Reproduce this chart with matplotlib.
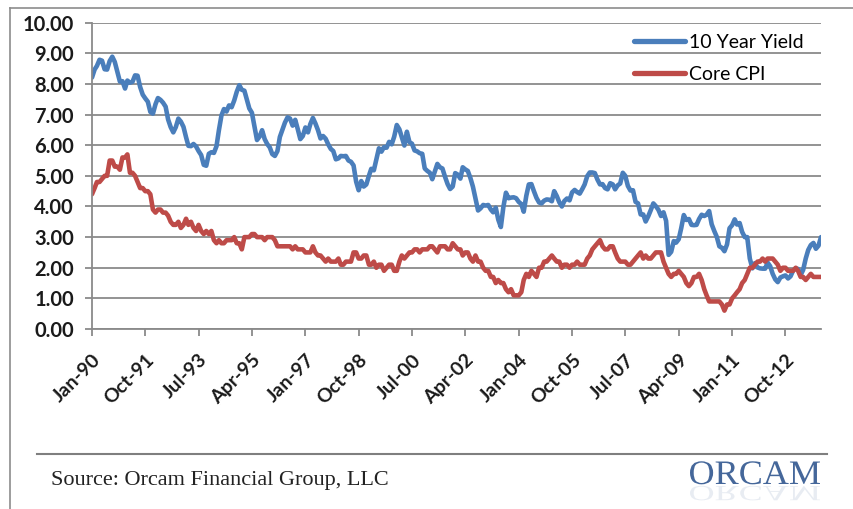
import numpy as np
import pandas as pd
import matplotlib
matplotlib.use("Agg")
import matplotlib.pyplot as plt
import matplotlib.dates as mdates
from matplotlib.textpath import TextPath
from matplotlib.patches import PathPatch
from matplotlib.font_manager import FontProperties
from matplotlib.transforms import Affine2D

# monthly data, Jan-1990 .. Dec-2013
yield_10y = [
    8.21, 8.47, 8.59, 8.79, 8.76, 8.48, 8.47, 8.75, 8.89, 8.72, 8.39, 8.08,  # 1990
    8.09, 7.85, 8.11, 8.04, 8.07, 8.28, 8.27, 7.90, 7.65, 7.53, 7.42, 7.09,  # 1991
    7.03, 7.34, 7.54, 7.48, 7.39, 7.26, 6.84, 6.59, 6.42, 6.59, 6.87, 6.77,  # 1992
    6.60, 6.26, 5.98, 5.97, 6.04, 5.96, 5.81, 5.68, 5.36, 5.33, 5.72, 5.77,  # 1993
    5.75, 5.97, 6.48, 6.97, 7.18, 7.10, 7.30, 7.24, 7.46, 7.74, 7.96, 7.81,  # 1994
    7.78, 7.47, 7.20, 7.06, 6.63, 6.17, 6.28, 6.49, 6.20, 6.04, 5.93, 5.71,  # 1995
    5.65, 5.81, 6.27, 6.51, 6.74, 6.91, 6.87, 6.64, 6.83, 6.53, 6.20, 6.30,  # 1996
    6.58, 6.42, 6.69, 6.89, 6.71, 6.49, 6.22, 6.30, 6.21, 6.03, 5.88, 5.81,  # 1997
    5.54, 5.57, 5.65, 5.64, 5.65, 5.50, 5.46, 5.34, 4.81, 4.53, 4.83, 4.65,  # 1998
    4.72, 5.00, 5.23, 5.18, 5.54, 5.90, 5.79, 5.94, 5.92, 6.11, 6.03, 6.28,  # 1999
    6.66, 6.52, 6.26, 5.99, 6.44, 6.10, 6.05, 5.83, 5.80, 5.74, 5.72, 5.24,  # 2000
    5.16, 5.10, 4.89, 5.14, 5.39, 5.28, 5.24, 4.97, 4.73, 4.57, 4.65, 5.09,  # 2001
    5.04, 4.91, 5.28, 5.21, 5.16, 4.93, 4.65, 4.26, 3.87, 3.94, 4.05, 4.03,  # 2002
    4.05, 3.90, 3.81, 3.96, 3.57, 3.33, 3.98, 4.45, 4.27, 4.29, 4.30, 4.27,  # 2003
    4.15, 4.08, 3.83, 4.35, 4.72, 4.73, 4.50, 4.28, 4.13, 4.10, 4.19, 4.23,  # 2004
    4.22, 4.17, 4.50, 4.34, 4.14, 4.00, 4.18, 4.26, 4.20, 4.46, 4.54, 4.47,  # 2005
    4.42, 4.57, 4.72, 4.99, 5.11, 5.11, 5.09, 4.88, 4.72, 4.73, 4.60, 4.56,  # 2006
    4.76, 4.72, 4.56, 4.69, 4.75, 5.10, 5.00, 4.67, 4.52, 4.53, 4.15, 4.10,  # 2007
    3.74, 3.74, 3.51, 3.68, 3.88, 4.10, 4.01, 3.89, 3.69, 3.81, 3.53, 2.42,  # 2008
    2.52, 2.87, 2.82, 2.93, 3.29, 3.72, 3.56, 3.59, 3.40, 3.39, 3.40, 3.59,  # 2009
    3.73, 3.69, 3.73, 3.85, 3.42, 3.20, 3.01, 2.70, 2.65, 2.54, 2.76, 3.29,  # 2010
    3.39, 3.58, 3.41, 3.46, 3.17, 3.00, 3.00, 2.30, 1.98, 2.15, 2.01, 1.98,  # 2011
    1.97, 1.97, 2.17, 2.05, 1.80, 1.62, 1.53, 1.68, 1.72, 1.75, 1.65, 1.72,  # 2012
    1.91, 1.98, 1.96, 1.76, 1.93, 2.30, 2.58, 2.74, 2.81, 2.62, 2.72, 3.00,  # 2013
]

core_cpi = [
    4.4, 4.6, 4.8, 4.8, 4.9, 5.0, 5.0, 5.5, 5.5, 5.3, 5.3, 5.2,  # 1990
    5.6, 5.6, 5.7, 5.1, 5.1, 5.0, 4.8, 4.6, 4.6, 4.5, 4.5, 4.4,  # 1991
    3.9, 3.8, 3.9, 3.9, 3.8, 3.8, 3.7, 3.5, 3.4, 3.4, 3.5, 3.3,  # 1992
    3.4, 3.6, 3.4, 3.5, 3.3, 3.2, 3.4, 3.2, 3.1, 3.2, 3.1, 3.2,  # 1993
    2.9, 2.8, 2.9, 2.8, 2.8, 2.9, 2.9, 2.9, 3.0, 2.8, 2.8, 2.6,  # 1994
    3.0, 3.0, 3.0, 3.1, 3.1, 3.0, 3.0, 3.0, 2.9, 3.0, 3.0, 3.0,  # 1995
    2.9, 2.7, 2.7, 2.7, 2.7, 2.7, 2.7, 2.6, 2.7, 2.6, 2.6, 2.6,  # 1996
    2.5, 2.5, 2.5, 2.7, 2.5, 2.4, 2.4, 2.3, 2.2, 2.3, 2.2, 2.2,  # 1997
    2.2, 2.3, 2.1, 2.1, 2.2, 2.2, 2.2, 2.5, 2.5, 2.3, 2.3, 2.4,  # 1998
    2.4, 2.1, 2.1, 2.2, 2.0, 2.1, 2.1, 1.9, 2.0, 2.1, 2.1, 1.9,  # 1999
    1.9, 2.2, 2.4, 2.3, 2.4, 2.5, 2.5, 2.6, 2.6, 2.5, 2.6, 2.6,  # 2000
    2.6, 2.7, 2.7, 2.6, 2.5, 2.7, 2.7, 2.7, 2.6, 2.6, 2.8, 2.7,  # 2001
    2.6, 2.6, 2.4, 2.5, 2.5, 2.3, 2.2, 2.4, 2.2, 2.2, 2.0, 1.9,  # 2002
    1.9, 1.7, 1.7, 1.5, 1.6, 1.5, 1.5, 1.3, 1.2, 1.3, 1.1, 1.1,  # 2003
    1.1, 1.2, 1.6, 1.8, 1.7, 1.9, 1.8, 1.7, 2.0, 2.0, 2.2, 2.2,  # 2004
    2.3, 2.4, 2.3, 2.2, 2.2, 2.0, 2.1, 2.1, 2.0, 2.1, 2.1, 2.2,  # 2005
    2.1, 2.1, 2.1, 2.3, 2.4, 2.6, 2.7, 2.8, 2.9, 2.7, 2.6, 2.6,  # 2006
    2.7, 2.7, 2.5, 2.3, 2.2, 2.2, 2.2, 2.1, 2.1, 2.2, 2.3, 2.4,  # 2007
    2.5, 2.3, 2.4, 2.3, 2.3, 2.4, 2.5, 2.5, 2.5, 2.2, 2.0, 1.8,  # 2008
    1.7, 1.8, 1.8, 1.9, 1.8, 1.7, 1.5, 1.4, 1.5, 1.7, 1.7, 1.8,  # 2009
    1.6, 1.3, 1.1, 0.9, 0.9, 0.9, 0.9, 0.9, 0.8, 0.6, 0.8, 0.8,  # 2010
    1.0, 1.1, 1.2, 1.3, 1.5, 1.6, 1.8, 2.0, 2.0, 2.1, 2.2, 2.2,  # 2011
    2.3, 2.2, 2.3, 2.3, 2.3, 2.2, 2.1, 1.9, 2.0, 2.0, 1.9, 1.9,  # 2012
    1.9, 2.0, 1.9, 1.7, 1.7, 1.6, 1.7, 1.8, 1.7, 1.7, 1.7, 1.7,  # 2013
]

dates = pd.date_range("1990-01-01", periods=len(yield_10y), freq="MS")
tick_dates = pd.date_range("1990-01-01", periods=14, freq="21MS")

BLUE = "#4a7ebb"
RED = "#be4b48"
GRID = "#8a8a8a"
W, H = 854, 509

fig = plt.figure(figsize=(W / 100, H / 100), dpi=100)
fig.patch.set_facecolor("white")

# overlay in pixel coords for frame, footer line and logo
bg = fig.add_axes([0, 0, 1, 1], zorder=0)
bg.set_xlim(0, W)
bg.set_ylim(H, 0)
bg.axis("off")
bg.plot([10, 10], [8, H], color="#8c8c8c", lw=1.2)
bg.plot([10, W], [8, 8], color="#8c8c8c", lw=1.2)
bg.plot([37, 827], [454, 454], color="#7f7f7f", lw=1.5)
fig.text(51 / W, 1 - 481 / H, "Source: Orcam Financial Group, LLC",
         family="Liberation Serif", fontsize=16, color="#222222", va="center")

# ORCAM logo with faded reflection
fp = FontProperties(family="Liberation Serif")
tp = TextPath((0, 0), "ORCAM", size=10, prop=fp)
ext = tp.get_extents()
s = 130 / ext.width
logo = Affine2D().translate(-ext.x0, 0).scale(s, -s * 0.95).translate(690, 484)
bg.add_patch(PathPatch(logo.transform_path(tp), fc="#45679a", ec="none"))
refl = Affine2D().translate(-ext.x0, 0).scale(s, s * 0.6).translate(690, 486)
bg.add_patch(PathPatch(refl.transform_path(tp), fc="#45679a", ec="none", alpha=0.12))

ax = fig.add_axes([92 / W, 1 - 329 / H, (821 - 92) / W, (329 - 22.7) / H], zorder=1)
ax.patch.set_alpha(0)
ax.plot(dates, yield_10y, color=BLUE, lw=3.3, label="10 Year Yield", solid_capstyle="round")
ax.plot(dates, core_cpi, color=RED, lw=3.3, label="Core CPI", solid_capstyle="round")

ax.set_xlim(dates[0], dates[-1])
ax.set_ylim(0, 10)
ax.set_yticks(np.arange(0, 11, 1))
ax.yaxis.set_major_formatter(plt.FormatStrFormatter("%.2f"))
ax.set_xticks(tick_dates)
ax.xaxis.set_major_formatter(mdates.DateFormatter("%b-%y"))
ax.grid(axis="y", color=GRID, lw=1.3)
ax.set_axisbelow(True)
for side in ["top", "right"]:
    ax.spines[side].set_visible(False)
for side in ["left", "bottom"]:
    ax.spines[side].set_color(GRID)
    ax.spines[side].set_linewidth(1.3)
ax.tick_params(axis="both", direction="out", length=5, width=1.3, color=GRID)
ax.tick_params(axis="y", pad=8)
ax.tick_params(axis="x", pad=11)
for lab in ax.get_yticklabels():
    lab.set_family("Lato")
    lab.set_weight("bold")
    lab.set_fontsize(14.5)
    lab.set_color("#1a1a1a")
for lab in ax.get_xticklabels():
    lab.set_family("Lato")
    lab.set_weight("bold")
    lab.set_fontsize(14)
    lab.set_color("#1a1a1a")
    lab.set_rotation(45)
    lab.set_ha("right")
    lab.set_rotation_mode("anchor")

leg = ax.legend(loc="upper right", bbox_to_anchor=(1.0, 1.02), frameon=False,
                prop={"family": "Lato", "size": 14}, handlelength=2.6,
                handletextpad=0.2, labelspacing=0.75)
for line in leg.get_lines():
    line.set_linewidth(3.8)

fig.savefig("out.png", dpi=100)
